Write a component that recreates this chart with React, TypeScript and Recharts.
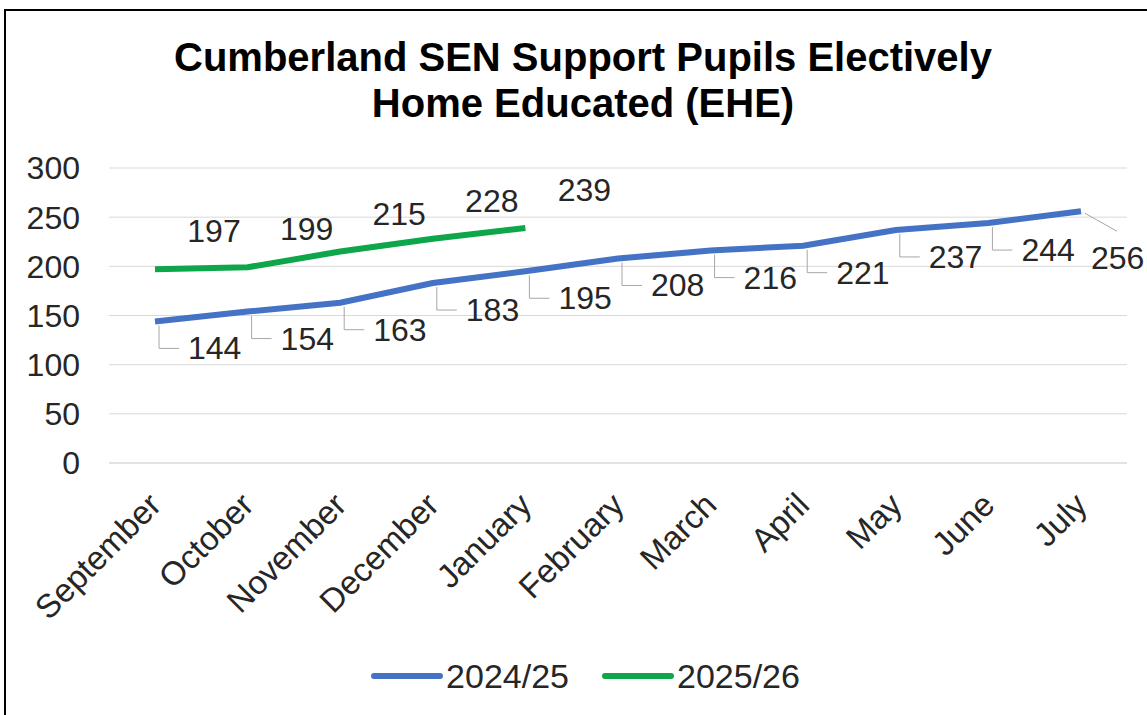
import React from "react"
import { CartesianGrid, Legend, Line, LineChart, XAxis, YAxis } from "recharts"

const months = [
  "September", "October", "November", "December", "January", "February",
  "March", "April", "May", "June", "July",
]
const year2425 = [144, 154, 163, 183, 195, 208, 216, 221, 237, 244, 256]
const year2526 = [197, 199, 215, 228, 239, null, null, null, null, null, null]
const yTicks = [0, 50, 100, 150, 200, 250, 300]

const data = months.map((m, i) => ({ month: m, a: year2425[i], b: year2526[i] }))

const BLUE = "#4472C4"
const GREEN = "#0EA64A"
const FONT = "'Liberation Sans', Arial, sans-serif"
const TEXT = "#262626"

const MonthTick = ({ x, y, payload }: any) => (
  <g transform={`translate(${x + 8},${y + 36})`}>
    <text transform="rotate(-45)" textAnchor="end" fontSize={33} fontFamily={FONT} fill={TEXT}>
      {payload.value}
    </text>
  </g>
)

const BlueLabel = ({ x, y, value, index }: any) => {
  if (value == null) return null
  // last point has its label pulled down and to the right with a slanted leader
  if (index === months.length - 1) {
    return (
      <g>
        <path d={`M${x + 4},${y + 2} L${x + 36},${y + 20}`} stroke="#a6a6a6" fill="none" />
        <text x={x + 10} y={y + 58} fontSize={32} fontFamily={FONT} fill={TEXT}>{value}</text>
      </g>
    )
  }
  return (
    <g>
      <path d={`M${x + 4},${y + 4} L${x + 4},${y + 27} L${x + 24},${y + 27}`} stroke="#a6a6a6" fill="none" />
      <text x={x + 33} y={y + 38} fontSize={32} fontFamily={FONT} fill={TEXT}>{value}</text>
    </g>
  )
}

const GreenLabel = ({ x, y, value }: any) => {
  if (value == null) return null
  return (
    <text x={x + 59} y={y - 27} textAnchor="middle" fontSize={32} fontFamily={FONT} fill={TEXT}>{value}</text>
  )
}

const LegendContent = () => (
  <div style={{ display: "flex", justifyContent: "center", alignItems: "center", height: 50, paddingLeft: 44, fontFamily: FONT, fontSize: 34, color: TEXT }}>
    <span style={{ display: "inline-block", width: 72, height: 6, background: BLUE, borderRadius: 3, marginRight: 3 }} />
    <span style={{ marginRight: 33 }}>2024/25</span>
    <span style={{ display: "inline-block", width: 72, height: 6, background: GREEN, borderRadius: 3, marginRight: 3 }} />
    <span>2025/26</span>
  </div>
)

export default function App() {
  return (
    <div style={{ position: "absolute", left: 0, top: 0, width: 1147, height: 715, background: "#fff", overflow: "hidden" }}>
      <div style={{ position: "absolute", left: 4, top: 9, width: 1160, height: 720, border: "2px solid #000", boxSizing: "border-box" }} />
      <div style={{ position: "absolute", left: 0, top: 34, width: 1166, textAlign: "center", fontFamily: FONT, fontWeight: "bold", fontSize: 40, lineHeight: "46px", color: "#000" }}>
        Cumberland SEN Support Pupils Electively
        <br />
        Home Educated (EHE)
      </div>
      <div style={{ position: "absolute", left: 0, top: 0 }}>
        <LineChart width={1147} height={715} data={data} margin={{ top: 168, right: 20, left: 0, bottom: 14 }}>
          <CartesianGrid vertical={false} stroke="#d9d9d9" />
          <XAxis
            dataKey="month"
            axisLine={{ stroke: "#d9d9d9" }}
            tickLine={false}
            height={188}
            interval={0}
            padding={{ left: 46, right: 46 }}
            tick={<MonthTick />}
          />
          <YAxis
            domain={[0, 300]}
            ticks={yTicks}
            width={109}
            axisLine={false}
            tickLine={false}
            tickSize={0}
            tickMargin={29}
            tick={{ fontSize: 32, fontFamily: FONT, fill: TEXT }}
          />
          <Legend verticalAlign="bottom" content={<LegendContent />} />
          <Line dataKey="a" name="2024/25" stroke={BLUE} strokeWidth={6} dot={false} isAnimationActive={false} label={<BlueLabel />} />
          <Line dataKey="b" name="2025/26" stroke={GREEN} strokeWidth={6} dot={false} isAnimationActive={false} label={<GreenLabel />} />
        </LineChart>
      </div>
    </div>
  )
}
